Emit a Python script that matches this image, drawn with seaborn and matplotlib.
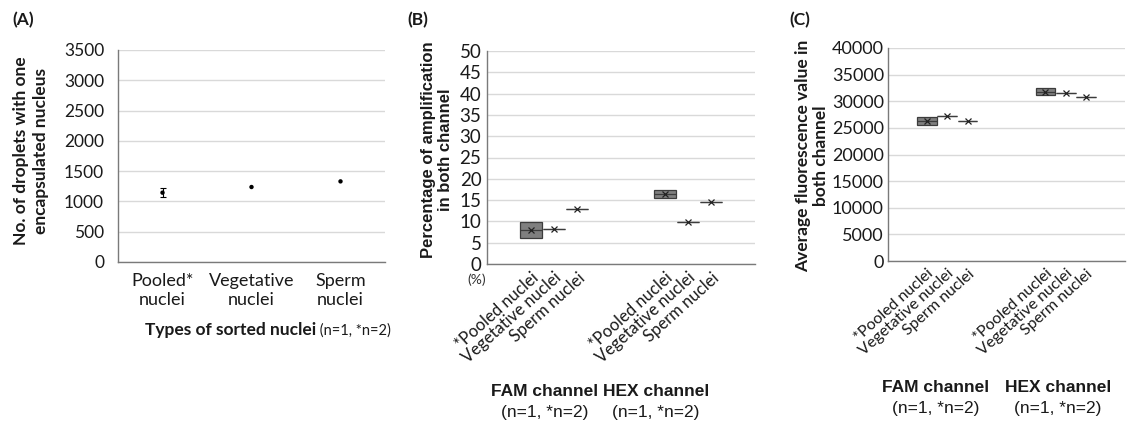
import numpy as np
import pandas as pd
import matplotlib
matplotlib.use("Agg")
import matplotlib.pyplot as plt
import seaborn as sns

# ---- data -------------------------------------------------------------
sorted_types = ["Pooled*\nnuclei", "Vegetative\nnuclei", "Sperm\nnuclei"]
droplet_mean = [1145, 1238, 1331]
droplet_err = [80, 0, 0]

channels = ["FAM channel", "HEX channel"]
channel_note = "(n=1, *n=2)"
nuclei_types = ["*Pooled nuclei", "Vegetative nuclei", "Sperm nuclei"]

# replicate values per nuclei type (pooled n=2, others n=1)
amp_fam = [[6.2, 9.8], [8.1], [12.8]]
amp_hex = [[15.4, 17.3], [9.9], [14.6]]
fluo_fam = [[25600, 27000], [27300], [26200]]
fluo_hex = [[31100, 32400], [31550], [30850]]

# ---- style ------------------------------------------------------------
sns.set_theme(style="whitegrid")
plt.rcParams["font.family"] = ["Lato", "DejaVu Sans"]
GRID = "#d9d9d9"
SPINE = "#7a7a7a"
TXT = "#1a1a1a"
W, H = 1127, 421

fig = plt.figure(figsize=(W / 100, H / 100), dpi=100)
fig.patch.set_facecolor("white")


def add_axes_px(left, right, top, bottom):
    return fig.add_axes([left / W, 1 - bottom / H, (right - left) / W, (bottom - top) / H])


def ftext(x, y, s, **kw):
    kw.setdefault("color", TXT)
    return fig.text(x / W, 1 - y / H, s, **kw)


def style_axes(ax):
    ax.set_facecolor("white")
    ax.xaxis.grid(False)
    ax.yaxis.grid(True, color=GRID, lw=1.0)
    for side in ("top", "right"):
        ax.spines[side].set_visible(False)
    for side in ("left", "bottom"):
        ax.spines[side].set_visible(True)
        ax.spines[side].set_color(SPINE)
        ax.spines[side].set_linewidth(1.0)
    ax.tick_params(axis="both", length=0, labelsize=12.5, colors=TXT)
    ax.set_xlabel("")
    ax.set_ylabel("")


def excel_quartiles(vals):
    v = sorted(vals)
    n = len(v)
    if n == 1:
        return v[0], v[0]
    half = n // 2
    return float(np.median(v[:half])), float(np.median(v[n - half:]))


def draw_boxes(ax, groups, offsets, width):
    stats, pos = [], []
    for ci, group in enumerate(groups):
        for si, vals in enumerate(group):
            q1, q3 = excel_quartiles(vals)
            stats.append(dict(med=float(np.median(vals)), q1=q1, q3=q3,
                              whislo=min(vals), whishi=max(vals),
                              mean=float(np.mean(vals)), fliers=[]))
            pos.append(ci + offsets[si])
    ax.bxp(stats, positions=pos, widths=width, patch_artist=True,
           showmeans=True, showcaps=False, showfliers=False, manage_ticks=False,
           boxprops=dict(facecolor="#7f7f7f", edgecolor="#3c3c3c", lw=0.9),
           medianprops=dict(color="#3c3c3c", lw=0.9),
           whiskerprops=dict(color="#3c3c3c", lw=0.9),
           meanprops=dict(marker="x", markeredgecolor="#222222",
                          markersize=5, markeredgewidth=0.9))
    ax.set_xticks(pos)
    ax.set_xticklabels(nuclei_types * len(groups), rotation=42, ha="right",
                       rotation_mode="anchor")
    ax.set_xlim(-0.5, len(groups) - 0.5)
    return pos


# ---- (A) droplets with one encapsulated nucleus ------------------------
axA = add_axes_px(118, 385, 50, 262)
dfA = pd.DataFrame({"type": sorted_types, "droplets": droplet_mean})
sns.scatterplot(data=dfA, x="type", y="droplets", ax=axA, color="black",
                s=10, edgecolor="none", zorder=3)
err_idx = [i for i, e in enumerate(droplet_err) if e > 0]
axA.errorbar(err_idx, [droplet_mean[i] for i in err_idx],
             yerr=[droplet_err[i] for i in err_idx], fmt="none",
             ecolor="black", elinewidth=0.8, capsize=2, capthick=0.8, zorder=3)
axA.set_xlim(-0.5, 2.5)
axA.set_ylim(0, 3500)
axA.set_yticks(np.arange(0, 3501, 500))
style_axes(axA)
axA.tick_params(axis="y", pad=10)
axA.tick_params(axis="x", pad=8, labelsize=13)

ftext(31, 151, "No. of droplets with one\nencapsulated nucleus", rotation=90,
      ha="center", va="center", fontsize=12.5, fontweight="bold",
      linespacing=1.25, multialignment="center")
t1 = ftext(145, 330, "Types of sorted nuclei", ha="left", va="center",
           fontsize=12.5, fontweight="bold")
axA.annotate(" (n=1, *n=2)", xy=(1, 0), xycoords=t1, ha="left", va="bottom",
             fontsize=10.5, color=TXT)

# ---- (B) percentage of amplification ----------------------------------
offsets = [-0.172, 0.0, 0.172]
axB = add_axes_px(487, 755, 51, 264)
draw_boxes(axB, [amp_fam, amp_hex], offsets, 0.165)
axB.set_ylim(0, 50)
axB.set_yticks(np.arange(0, 51, 5))
style_axes(axB)
axB.tick_params(axis="y", pad=4, labelsize=13.5)
axB.tick_params(axis="x", pad=4, labelsize=12)
ftext(477, 280, "(%)", ha="center", va="center", fontsize=10, color="#333333")
ftext(437, 150, "Percentage of amplification\nin both channel", rotation=90,
      ha="center", va="center", fontsize=12, fontweight="bold",
      family=["Liberation Sans", "DejaVu Sans"], linespacing=1.2,
      multialignment="center")

# ---- (C) average fluorescence ----------------------------------------
axC = add_axes_px(888, 1125, 48, 261)
draw_boxes(axC, [fluo_fam, fluo_hex], offsets, 0.165)
axC.set_ylim(0, 40000)
axC.set_yticks(np.arange(0, 40001, 5000))
style_axes(axC)
axC.tick_params(axis="y", pad=3, labelsize=13)
axC.tick_params(axis="x", pad=4, labelsize=11.5)
ftext(812, 156, "Average fluorescence value in\nboth channel", rotation=90,
      ha="center", va="center", fontsize=12.5, fontweight="bold",
      linespacing=1.2, multialignment="center")

# channel captions under the rotated labels
arial = ["Liberation Sans", "DejaVu Sans"]
for (xf, xh), (y1, y2) in [((545, 656), (392, 412)), ((936, 1058), (388, 409))]:
    for x, name in zip((xf, xh), channels):
        ftext(x, y1, name, ha="center", va="center", fontsize=12.5,
              fontweight="bold", family=arial)
        ftext(x, y2, channel_note, ha="center", va="center", fontsize=12.5,
              family=arial)

# ---- panel letters ----------------------------------------------------
for x, s in [(12, "(A)"), (407, "(B)"), (789, "(C)")]:
    ftext(x, 20, s, ha="left", va="center", fontsize=12.5, fontweight="bold")

fig.savefig("out.png", dpi=100, facecolor="white")
